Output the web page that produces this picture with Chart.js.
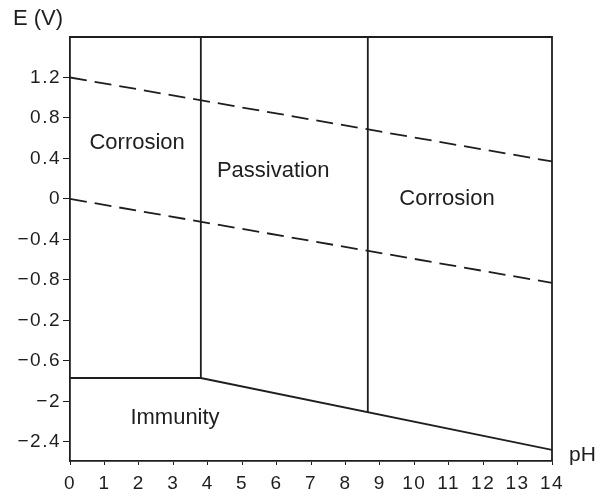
<!DOCTYPE html>
<html>
<head>
<meta charset="utf-8">
<script src="https://cdn.jsdelivr.net/npm/chart.js@4"></script>
<style>
  html, body { margin: 0; padding: 0; background: #fff; }
  #wrap { width: 599px; height: 494px; }
</style>
</head>
<body>
<div id="wrap"><canvas id="chart"></canvas></div>
<script>
// pH axis
const phTicks = [0, 1, 2, 3, 4, 5, 6, 7, 8, 9, 10, 11, 12, 13, 14];
// E axis: tick positions and the labels as printed on the figure
const eTicks = [1.2, 0.8, 0.4, 0, -0.4, -0.8, -1.2, -1.6, -2.0, -2.4];
const eLabels = ['1.2', '0.8', '0.4', '0', '\u22120.4', '\u22120.8', '\u22120.2', '\u22120.6', '\u22122', '\u22122.4'];
const eMin = -2.59, eMax = 1.6;

// water stability lines (dashed)
const upperWaterPh = [0, 14];
const upperWaterE = [1.2, 0.37];
const lowerWaterPh = [0, 14];
const lowerWaterE = [0.0, -0.83];

// domain boundaries (solid)
const immunityPh = [0, 3.8, 14];
const immunityE = [-1.77, -1.77, -2.48];
const passStartPh = [3.8, 3.8];
const passStartE = [eMax, -1.77];
const passEndPh = [8.65, 8.65];
const passEndE = [eMax, -2.11];

// region names
const regionNames = ['Corrosion', 'Passivation', 'Corrosion', 'Immunity'];
const regionPh = [1.95, 5.9, 10.95, 3.05];
const regionE = [0.55, 0.28, 0.0, -2.16];

const ink = '#1e1e1e';
const font = '"Liberation Sans", Arial, sans-serif';

function pts(xs, ys) {
  return xs.map((x, i) => ({ x: x, y: ys[i] }));
}

function line(data, dashed) {
  return {
    data: data,
    showLine: true,
    borderColor: ink,
    borderWidth: 1.8,
    borderDash: dashed ? [17, 8] : [],
    pointRadius: 0,
    fill: false
  };
}

// tick labels in the figure are set wide
const wideTicks = {
  id: 'wideTicks',
  beforeDraw(chart) { chart.ctx.letterSpacing = '1.5px'; },
  afterDraw(chart) { chart.ctx.letterSpacing = '0px'; }
};

const frameAndText = {
  id: 'frameAndText',
  afterDatasetsDraw(chart) {
    const { ctx, chartArea: a, scales } = chart;
    ctx.save();
    ctx.letterSpacing = '0px';
    ctx.strokeStyle = ink;
    ctx.lineWidth = 1.8;
    ctx.beginPath();
    ctx.moveTo(a.left, a.top);
    ctx.lineTo(a.right, a.top);
    ctx.lineTo(a.right, a.bottom);
    ctx.stroke();

    ctx.fillStyle = ink;
    ctx.font = '22px ' + font;
    ctx.textAlign = 'center';
    ctx.textBaseline = 'middle';
    regionNames.forEach((t, i) => {
      ctx.fillText(t, scales.x.getPixelForValue(regionPh[i]), scales.y.getPixelForValue(regionE[i]));
    });

    ctx.textAlign = 'left';
    ctx.fillText('E (V)', 13, 19);
    ctx.font = '21px ' + font;
    ctx.fillText('pH', a.right + 17, a.bottom - 6);
    ctx.restore();
  }
};

new Chart(document.getElementById('chart'), {
  type: 'scatter',
  data: {
    datasets: [
      line(pts(upperWaterPh, upperWaterE), true),
      line(pts(lowerWaterPh, lowerWaterE), true),
      line(pts(immunityPh, immunityE), false),
      line(pts(passStartPh, passStartE), false),
      line(pts(passEndPh, passEndE), false)
    ]
  },
  options: {
    responsive: true,
    maintainAspectRatio: false,
    animation: false,
    layout: { padding: { top: 37, right: 47, left: 0, bottom: 0 } },
    plugins: { legend: { display: false }, tooltip: { enabled: false } },
    scales: {
      x: {
        type: 'linear',
        min: 0,
        max: 14,
        afterBuildTicks: s => { s.ticks = phTicks.map(v => ({ value: v })); },
        afterFit: s => { s.height = 33; },
        grid: { drawOnChartArea: false, drawTicks: true, tickLength: 4, color: ink },
        border: { display: true, color: ink, width: 1.8 },
        ticks: { color: ink, font: { size: 19, family: font }, padding: 7, maxRotation: 0, autoSkip: false }
      },
      y: {
        type: 'linear',
        min: eMin,
        max: eMax,
        afterBuildTicks: s => { s.ticks = eTicks.map(v => ({ value: v })); },
        afterFit: s => { s.width = 70; },
        grid: { drawOnChartArea: false, drawTicks: true, tickLength: 7, color: ink },
        border: { display: true, color: ink, width: 1.8 },
        ticks: {
          color: ink,
          font: { size: 19, family: font },
          padding: 2,
          callback: (v) => {
            const i = eTicks.findIndex(t => Math.abs(t - v) < 1e-6);
            return i >= 0 ? eLabels[i] : '';
          }
        }
      }
    }
  },
  plugins: [wideTicks, frameAndText]
});
</script>
</body>
</html>
